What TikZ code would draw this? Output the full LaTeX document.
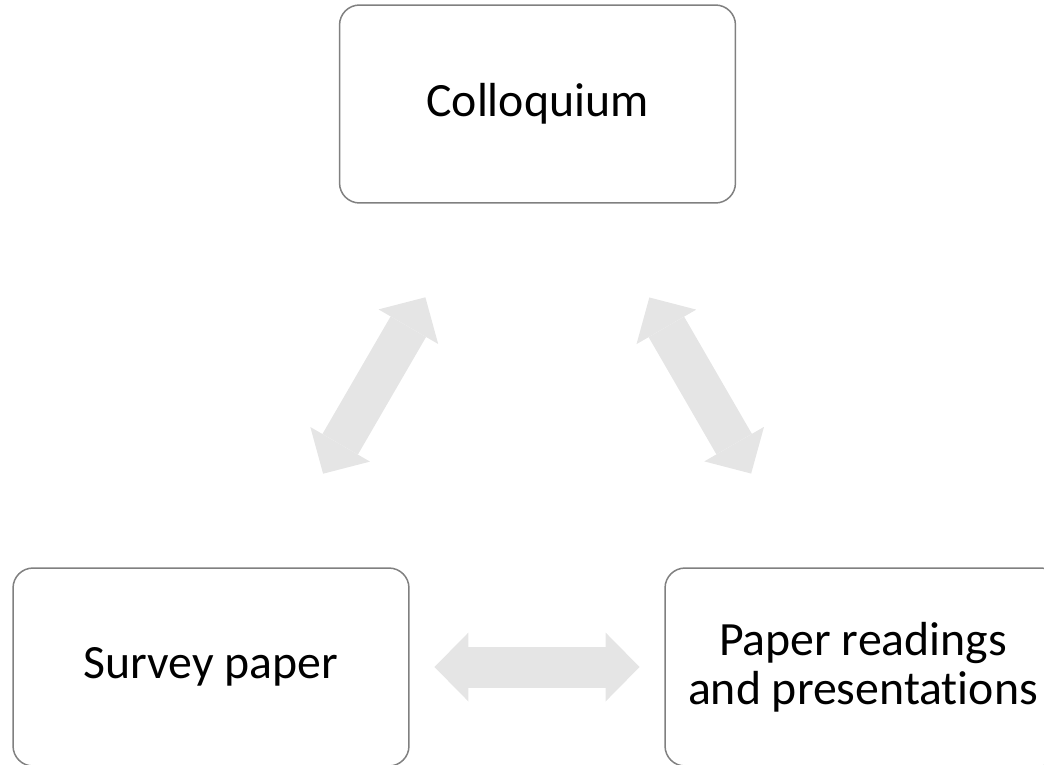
\documentclass[tikz,border=0pt]{standalone}
\usepackage{fontspec}
\setmainfont{Carlito}[RawFeature=-liga]
\usetikzlibrary{arrows.meta}

\begin{document}
\begin{tikzpicture}[x=0.02cm, y=-0.02cm,
	box/.style={draw=black!50, line width=0.03cm, rounded corners=0.4cm,
		minimum width=7.92cm, minimum height=3.96cm, align=center,
		font=\fontsize{27.2pt}{28pt}\selectfont},
	link/.style={draw=black!10, line width=0.82cm,
		{Triangle[width=1.38cm,length=0.68cm,line width=0pt]}-{Triangle[width=1.38cm,length=0.68cm,line width=0pt]},
		shorten <=4.47cm, shorten >=4.47cm}]
%page is 1044 x 764, boxes run off the lower edge
\clip (0,0) rectangle (1044,764);
\node [box] (col) at (537.5,104) {Colloquium};
\node [box] (sur) at (211,667) {Survey paper};
\node [box] (pap) at (863,667) {Paper readings\\and presentations};
\foreach \a/\b in {col/sur, col/pap, sur/pap}
	\draw [link] (\a.center) -- (\b.center);
\end{tikzpicture}
\end{document}
